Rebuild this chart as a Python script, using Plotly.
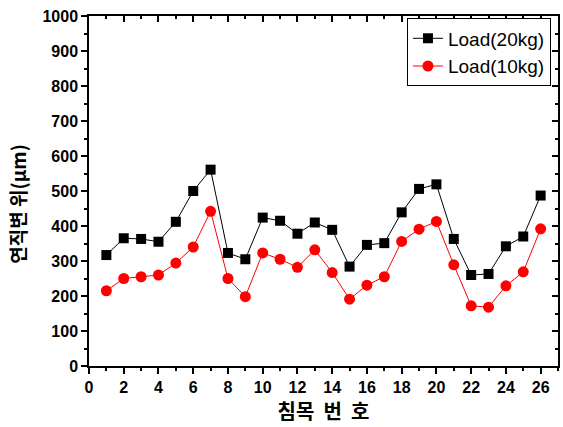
import plotly.graph_objects as go

sleeper = list(range(1, 27))
load20 = [317, 365, 363, 355, 412, 500, 561, 323, 305, 424, 415, 378, 410, 389,
          284, 346, 351, 439, 506, 519, 363, 260, 263, 342, 370, 487]
load10 = [215, 250, 255, 260, 294, 340, 442, 250, 198, 323, 305, 282, 332, 267,
          191, 231, 255, 356, 391, 413, 289, 172, 168, 229, 269, 392]
xticks = list(range(0, 27, 2))
yticks = list(range(0, 1001, 100))

FONT = "Liberation Sans, Arial, Noto Sans CJK KR"
KFONT = "Noto Sans CJK KR"

fig = go.Figure()
fig.add_trace(go.Scatter(x=sleeper, y=load20, mode="lines+markers", name="Load(20kg)",
                         line=dict(color="black", width=1),
                         marker=dict(symbol="square", size=10, color="black")))
fig.add_trace(go.Scatter(x=sleeper, y=load10, mode="lines+markers", name="Load(10kg)",
                         line=dict(color="red", width=1),
                         marker=dict(symbol="circle", size=11, color="red")))
# empty trace so the mirrored inside-tick axes render
fig.add_trace(go.Scatter(x=[], y=[], xaxis="x2", yaxis="y2", showlegend=False))

axis_common = dict(showgrid=False, zeroline=False, showline=True, linecolor="black",
                   linewidth=1.5, tickcolor="black", tickwidth=1.5, automargin=False)
fig.update_layout(
    width=563, height=427,
    margin=dict(l=89, r=5, t=16, b=61),
    paper_bgcolor="white", plot_bgcolor="white",
    font=dict(family=FONT, color="black"),
    xaxis=dict(range=[0, 27], tickvals=xticks, ticks="outside", ticklen=6,
               minor=dict(dtick=1, ticklen=3, ticks="outside", tickcolor="black", tickwidth=1.5),
               tickfont=dict(size=16, family=FONT, weight="bold"),
               title=dict(text="침목\u00a0\u00a0번\u00a0\u00a0호",
                          font=dict(size=20, family=KFONT, weight="bold"), standoff=6),
               **axis_common),
    yaxis=dict(range=[0, 1000], tickvals=yticks, ticks="outside", ticklen=6,
               minor=dict(dtick=50, ticklen=3, ticks="outside", tickcolor="black", tickwidth=1.5),
               tickfont=dict(size=16, family=FONT, weight="bold"),
               **axis_common),
    xaxis2=dict(range=[0, 27], overlaying="x", side="top", anchor="y2", tickvals=xticks,
                ticks="inside", ticklen=6, showticklabels=False,
                minor=dict(dtick=1, ticklen=3, ticks="inside", tickcolor="black", tickwidth=1.5),
                **axis_common),
    yaxis2=dict(range=[0, 1000], overlaying="y", side="right", anchor="x2", tickvals=yticks,
                ticks="inside", ticklen=6, showticklabels=False,
                minor=dict(dtick=50, ticklen=3, ticks="inside", tickcolor="black", tickwidth=1.5),
                **axis_common),
    legend=dict(x=0.985, y=0.993, xanchor="right", yanchor="top",
                bgcolor="white", bordercolor="black", borderwidth=1,
                font=dict(size=19, family=FONT), tracegroupgap=0,
                itemwidth=30),
    annotations=[dict(text="연직변\u00a0위(μm)", textangle=-90, showarrow=False,
                      xref="paper", yref="paper", x=-0.152, y=0.463,
                      xanchor="center", yanchor="middle",
                      font=dict(size=19, family=KFONT, weight="bold"))],
)

fig.write_html("out.html", config={"displayModeBar": False},
               post_script="document.body.style.margin='0';")
